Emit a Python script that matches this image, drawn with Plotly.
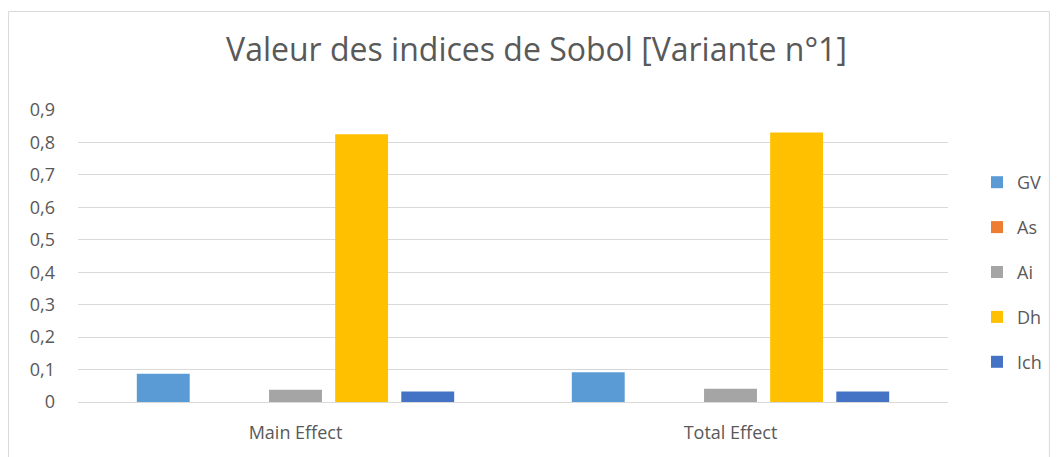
import plotly.graph_objects as go

categories = ["Main Effect", "Total Effect"]
series_names = ["GV", "As", "Ai", "Dh", "Ich"]
gv = [0.087, 0.092]
as_ = [0.0, 0.0]
ai = [0.038, 0.041]
dh = [0.825, 0.831]
ich = [0.032, 0.032]
colors = ["#5B9BD5", "#ED7D31", "#A5A5A5", "#FFC000", "#4472C4"]

values = [gv, as_, ai, dh, ich]

# page body has an 8px margin, so figure coordinates = screen - 8
W, H = 1050, 449
ml, mr, mt, mb = 70, 109, 102, 55
pw = W - ml - mr
ph = H - mt - mb

fig = go.Figure()
for name, vals, c in zip(series_names, values, colors):
    fig.add_trace(go.Bar(x=categories, y=vals, name=name, marker_color=c,
                         marker_line_width=0, legendgroup=name))

font_family = "Open Sans, Liberation Sans, sans-serif"
txt = "#595959"

fig.update_layout(
    width=W, height=H,
    margin=dict(l=ml, r=mr, t=mt, b=mb),
    paper_bgcolor="white", plot_bgcolor="white",
    separators=", ",
    barmode="group", bargap=0.24, bargroupgap=0.2,
    title=dict(text="Valeur des indices de Sobol [Variante n°1]",
               x=(529 - ml) / pw, xanchor="center", xref="paper",
               y=1 - 42 / H, yanchor="middle",
               font=dict(family=font_family, size=32, color=txt)),
    font=dict(family=font_family, color=txt),
    legend=dict(x=1 + 28 / pw, xanchor="left", y=1 - (156 - mt) / ph, yanchor="top",
                font=dict(size=18, color=txt), tracegroupgap=18.5,
                traceorder="grouped", itemwidth=30, bgcolor="rgba(0,0,0,0)"),
    xaxis=dict(showgrid=False, showline=False, ticks="",
               tickfont=dict(size=18, color=txt), ticklabelstandoff=18),
    yaxis=dict(range=[0, 0.9], dtick=0.1, tick0=0, tickformat=".1~f", showgrid=True,
               gridcolor="#D9D9D9", gridwidth=1, zeroline=True, zerolinecolor="#D9D9D9",
               zerolinewidth=1, showline=False, ticks="", ticklabelstandoff=22,
               tickfont=dict(size=18, color=txt)),
    shapes=[dict(type="rect", xref="paper", yref="paper",
                 x0=(0.5 - ml) / pw, x1=(1042.5 - ml) / pw,
                 y0=(H - mb - 460) / ph, y1=(H - mb - 3.5) / ph,
                 line=dict(color="#D9D9D9", width=1), fillcolor="rgba(0,0,0,0)", layer="below")],
)

fig.write_html("out.html")
